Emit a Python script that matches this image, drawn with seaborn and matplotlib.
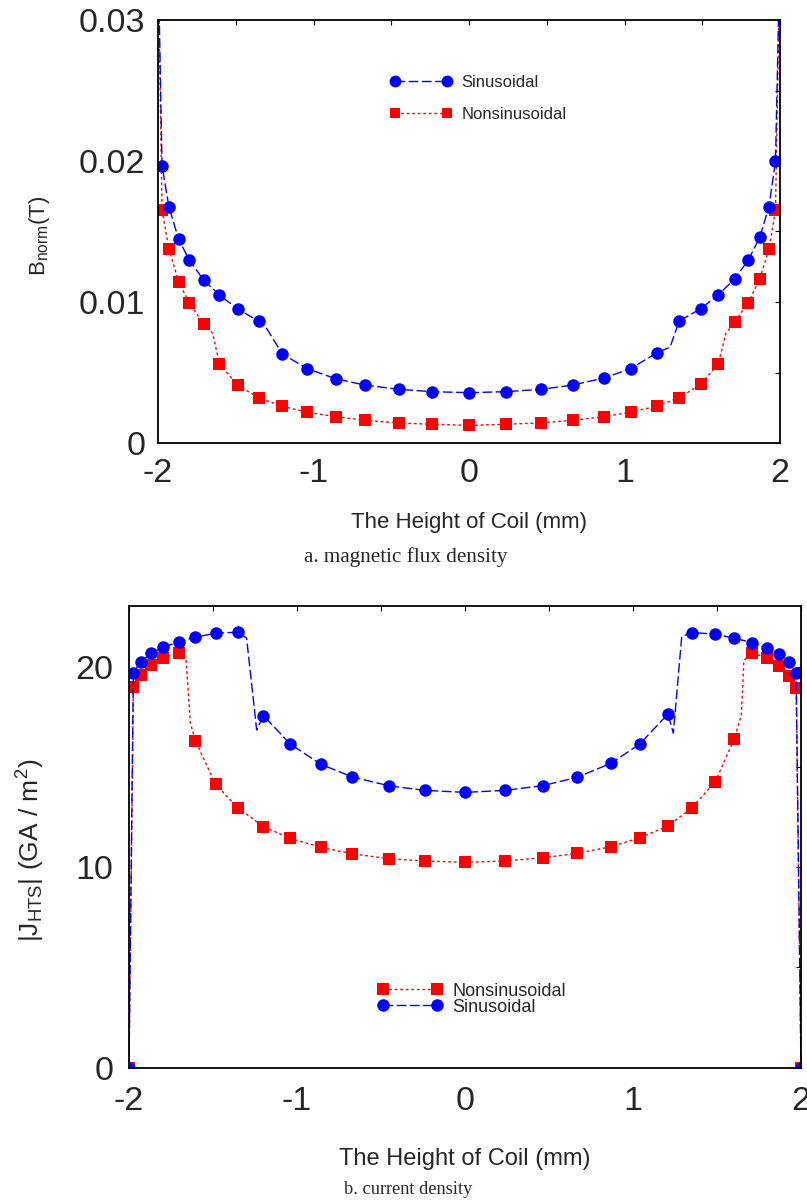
import numpy as np
import pandas as pd
import matplotlib
matplotlib.use("Agg")
import matplotlib.pyplot as plt
from matplotlib.lines import Line2D
from matplotlib.ticker import MultipleLocator, FuncFormatter
import seaborn as sns

# ---- data -----------------------------------------------------------------
# mesh nodes along the coil height (mm)
height_nodes = [-1.974, -1.930, -1.867, -1.798, -1.705, -1.605, -1.485, -1.353,
                -1.200, -1.040, -0.858, -0.671, -0.453, -0.239, 0.0,
                0.238, 0.466, 0.667, 0.868, 1.039, 1.208, 1.352, 1.489,
                1.603, 1.709, 1.795, 1.870, 1.929, 1.971]

# magnetic flux density (T)
b_sinusoidal = [0.01967, 0.01676, 0.01445, 0.01296, 0.01154, 0.01050, 0.00948, 0.00865,
                0.00631, 0.00527, 0.00456, 0.00411, 0.00381, 0.00364, 0.00357,
                0.00364, 0.00381, 0.00411, 0.00461, 0.00527, 0.00640, 0.00865, 0.00952,
                0.01050, 0.01165, 0.01296, 0.01459, 0.01676, 0.01998]
b_nonsinusoidal = [0.01652, 0.01376, 0.01144, 0.00991, 0.00844, 0.00560, 0.00409, 0.00321,
                   0.00260, 0.00218, 0.00187, 0.00161, 0.00142, 0.00133, 0.00125,
                   0.00133, 0.00143, 0.00161, 0.00187, 0.00218, 0.00262, 0.00321, 0.00416,
                   0.00560, 0.00860, 0.00993, 0.01165, 0.01374, 0.01652]

# current density (GA/m^2)
j_sinusoidal = [19.70, 20.25, 20.67, 20.97, 21.23, 21.47, 21.67, 21.72,
                17.56, 16.14, 15.13, 14.50, 14.06, 13.83, 13.73,
                13.83, 14.07, 14.48, 15.18, 16.13, 17.64, 21.70, 21.62,
                21.42, 21.20, 20.95, 20.62, 20.25, 19.67]
j_nonsinusoidal = [18.97, 19.59, 20.08, 20.43, 20.70, 16.31, 14.13, 12.97,
                   12.02, 11.44, 10.99, 10.67, 10.42, 10.31, 10.24,
                   10.31, 10.47, 10.69, 11.02, 11.46, 12.05, 12.97, 14.26,
                   16.39, 20.70, 20.42, 20.03, 19.55, 18.95]

# coil edges for the current density (marked)
j_edge_x = [-2.0, 2.0]
j_edge_sin = [0.0, 0.0]
j_edge_nonsin = [0.0, 0.0]

# intermediate solver points drawn as line only
b_sin_extra_x = [-2.0, -1.300, 1.293, 2.0]
b_sin_extra_y = [0.035, 0.00810, 0.00680, 0.035]
b_non_extra_x = [-2.0, -1.648, 1.652, 2.0]
b_non_extra_y = [0.035, 0.00778, 0.00778, 0.035]
j_sin_extra_x = [-1.300, -1.240, 1.240, 1.290]
j_sin_extra_y = [21.42, 16.84, 16.68, 21.50]
j_non_extra_x = [-1.660, -1.635, 1.645, 1.660]
j_non_extra_y = [20.33, 17.20, 17.60, 20.30]

BLUE = "#0000FF"
RED = "#FF0000"


def build_series(x_marked, y_marked, x_extra, y_extra):
    marked = pd.DataFrame({"x": x_marked, "y": y_marked, "marked": True})
    extra = pd.DataFrame({"x": x_extra, "y": y_extra, "marked": False})
    df = pd.concat([marked, extra]).sort_values("x").reset_index(drop=True)
    return df, list(df.index[df["marked"]])


# ---- style ------------------------------------------------------------------
sns.set_theme(style="white")
plt.rcParams["font.family"] = ["Liberation Sans", "DejaVu Sans"]
plt.rcParams["axes.unicode_minus"] = False
plt.rcParams["mathtext.default"] = "regular"

fig = plt.figure(figsize=(8.07, 12.03), dpi=100)
W, H = 807, 1203


def axes_px(left, top, right, bottom):
    return fig.add_axes([left / W, 1 - bottom / H, (right - left) / W, (bottom - top) / H])


def draw(ax, df, idx, color, marker, ms, ls):
    sns.lineplot(data=df, x="x", y="y", ax=ax, color=color, linestyle=ls, linewidth=1.0,
                 marker=marker, markersize=ms, markeredgewidth=0, markevery=idx,
                 sort=False, estimator=None, legend=False)


def style_axes(ax, xpad, ypad):
    for sp in ax.spines.values():
        sp.set_visible(True)
        sp.set_color("black")
        sp.set_linewidth(1.3)
    ax.xaxis.set_major_locator(MultipleLocator(1))
    ax.xaxis.set_minor_locator(MultipleLocator(0.5))
    ax.xaxis.set_major_formatter(FuncFormatter(lambda v, _: f"{v:g}"))
    ax.tick_params(which="both", direction="in", top=True, right=True,
                   length=3.5, width=0.8, color="black")
    ax.tick_params(axis="x", which="major", labelsize=24.5, pad=xpad)
    ax.tick_params(axis="y", which="major", labelsize=24.5, pad=ypad)
    ax.grid(False)


dash_sin = (0, (7, 2.5))
dash_non = (0, (2, 2))

# ---- panel a: magnetic flux density ---------------------------------------
ax1 = axes_px(158, 20, 780, 443)
df_bn, idx_bn = build_series(height_nodes, b_nonsinusoidal, b_non_extra_x, b_non_extra_y)
df_bs, idx_bs = build_series(height_nodes, b_sinusoidal, b_sin_extra_x, b_sin_extra_y)
draw(ax1, df_bn, idx_bn, RED, "s", 8, dash_non)
draw(ax1, df_bs, idx_bs, BLUE, "o", 9, dash_sin)
ax1.set_xlim(-2, 2)
ax1.set_ylim(0, 0.03)
ax1.yaxis.set_major_locator(MultipleLocator(0.01))
ax1.yaxis.set_minor_locator(MultipleLocator(0.005))
ax1.yaxis.set_major_formatter(FuncFormatter(lambda v, _: "0" if abs(v) < 1e-9 else f"{v:.2f}"))
style_axes(ax1, 10.8, 9.0)
ax1.set_xlabel("The Height of Coil (mm)", fontsize=16)
ax1.xaxis.set_label_coords(0.5, -0.162)
ax1.set_ylabel("B$_{norm}$(T)", fontsize=16)
ax1.yaxis.set_label_coords(-0.170, 0.49)

h_sin = Line2D([], [], color=BLUE, linestyle=dash_sin, linewidth=1.0, marker="o",
               markersize=8.5, markeredgewidth=0)
h_non = Line2D([], [], color=RED, linestyle=dash_non, linewidth=1.0, marker="s",
               markersize=7.5, markeredgewidth=0)
ax1.legend([h_sin, h_non], ["Sinusoidal", "Nonsinusoidal"], loc="upper left",
           bbox_to_anchor=(0.373, 0.871), frameon=False, borderpad=0, borderaxespad=0,
           fontsize=12, numpoints=2, handlelength=3.7, handletextpad=0.6, labelspacing=1.05)

fig.text(406 / W, 1 - 557 / H, "a. magnetic flux density", ha="center", va="center",
         fontsize=15.2, family=["Liberation Serif", "DejaVu Serif"])

# ---- panel b: current density ---------------------------------------------
ax2 = axes_px(129, 605.7, 801, 1067.7)
df_jn, idx_jn = build_series(height_nodes + j_edge_x, j_nonsinusoidal + j_edge_nonsin,
                             j_non_extra_x, j_non_extra_y)
df_js, idx_js = build_series(height_nodes + j_edge_x, j_sinusoidal + j_edge_sin,
                             j_sin_extra_x, j_sin_extra_y)
draw(ax2, df_jn, idx_jn, RED, "s", 8, dash_non)
draw(ax2, df_js, idx_js, BLUE, "o", 9, dash_sin)
ax2.set_xlim(-2, 2)
ax2.set_ylim(0, 23.04)
ax2.yaxis.set_major_locator(MultipleLocator(10))
ax2.yaxis.set_minor_locator(MultipleLocator(5))
ax2.yaxis.set_major_formatter(FuncFormatter(lambda v, _: f"{v:g}"))
style_axes(ax2, 13.5, 11.0)
ax2.set_xlabel("The Height of Coil (mm)", fontsize=17)
ax2.xaxis.set_label_coords(0.5, -0.173)
ax2.set_ylabel("|J$_{HTS}$| (GA / m$^{2}$)", fontsize=19)
ax2.yaxis.set_label_coords(-0.122, 0.47)

h_non2 = Line2D([], [], color=RED, linestyle=dash_non, linewidth=1.0, marker="s",
                markersize=8, markeredgewidth=0)
h_sin2 = Line2D([], [], color=BLUE, linestyle=dash_sin, linewidth=1.0, marker="o",
                markersize=9, markeredgewidth=0)
ax2.legend([h_non2, h_sin2], ["Nonsinusoidal", "Sinusoidal"], loc="upper left",
           bbox_to_anchor=(0.370, 0.184), frameon=False, borderpad=0, borderaxespad=0,
           fontsize=13, numpoints=2, handlelength=3.6, handletextpad=0.55, labelspacing=-0.06)

fig.text(408 / W, 1 - 1190 / H, "b. current density", ha="center", va="center",
         fontsize=13.2, family=["Liberation Serif", "DejaVu Serif"])

fig.savefig("out.png", dpi=100)
